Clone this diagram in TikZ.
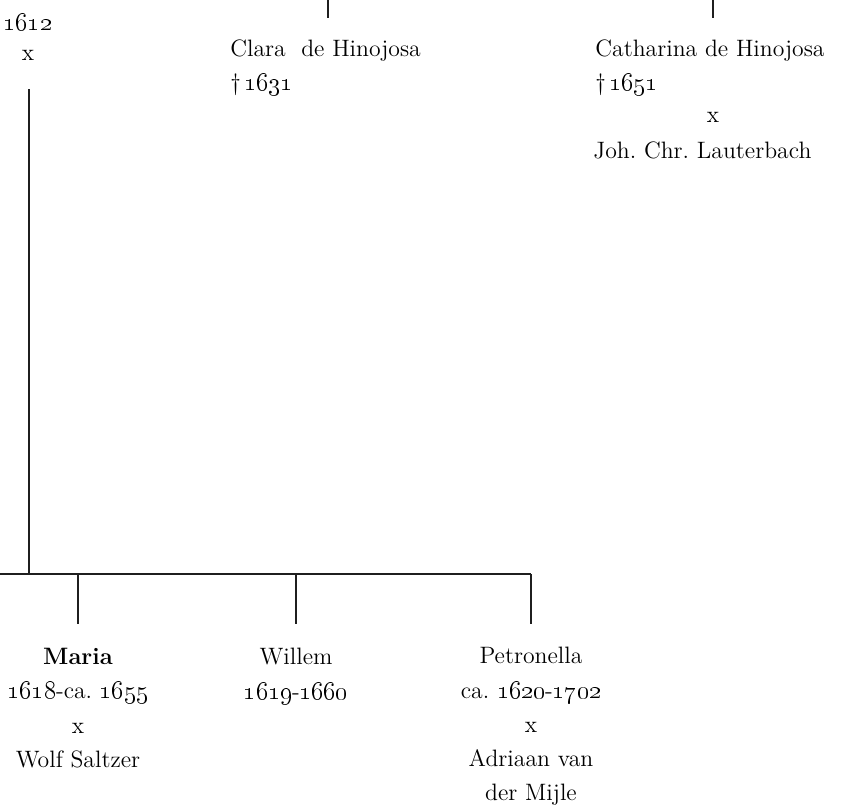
\documentclass[tikz,border=0pt]{standalone}
\usetikzlibrary{positioning}
\newcommand{\yr}[1]{\oldstylenums{#1}}
\frenchspacing
\begin{document}
\begin{tikzpicture}[x=0.02cm,y=-0.02cm,
    person/.style={inner sep=0pt, font=\fontsize{13.5}{19.5}\selectfont, align=center, anchor=north},
    left person/.style={person, align=left, anchor=north west},
    tree/.style={line width=1pt, color=black!88}]
    \useasboundingbox (0,0) rectangle (841,806);
    % upper generation
    \node[person, font=\fontsize{13.5}{17}\selectfont] (jaar) at (28,14) {\yr{1612}\\x};
    \node[left person] (clara) at (230,39) {Clara\ \ de Hinojosa\\\dag\,\yr{1631}};
    \node[left person] (cath) at (595,39) {Catharina de Hinojosa\\\dag\,\yr{1651}};
    \node[person] (cathx) at (713,112) {x};
    \node[left person] (lauter) at (593,141) {Joh. Chr. Lauterbach};
    \coordinate (claraup) at (328,0);
    \coordinate (cathup) at (713,0);
    \draw[tree] (claraup) -- ++(0,18);
    \draw[tree] (cathup) -- ++(0,18);
    % marriage line and bar
    \coordinate (stem) at (29,89);
    \coordinate (barl) at (0,574);
    \coordinate (barr) at (531,574);
    \draw[tree] (stem) -- (stem |- barl);
    \draw[tree] (barl) -- (barr);
    % children
    \node[person] (maria) at (78,648) {\textbf{Maria}\\\yr{1618}-ca.\ \yr{1655}\\x\\Wolf Saltzer};
    \node[person] (willem) at (296,648) {Willem\\\yr{1619}-\yr{1660}};
    \node[person] (petro) at (531,647) {Petronella\\ca.\ \yr{1620}-\yr{1702}\\x\\Adriaan van\\der Mijle};
    \foreach \k in {maria,willem,petro}
        \draw[tree] (\k.north |- barl) -- ++(0,50);
\end{tikzpicture}
\end{document}
